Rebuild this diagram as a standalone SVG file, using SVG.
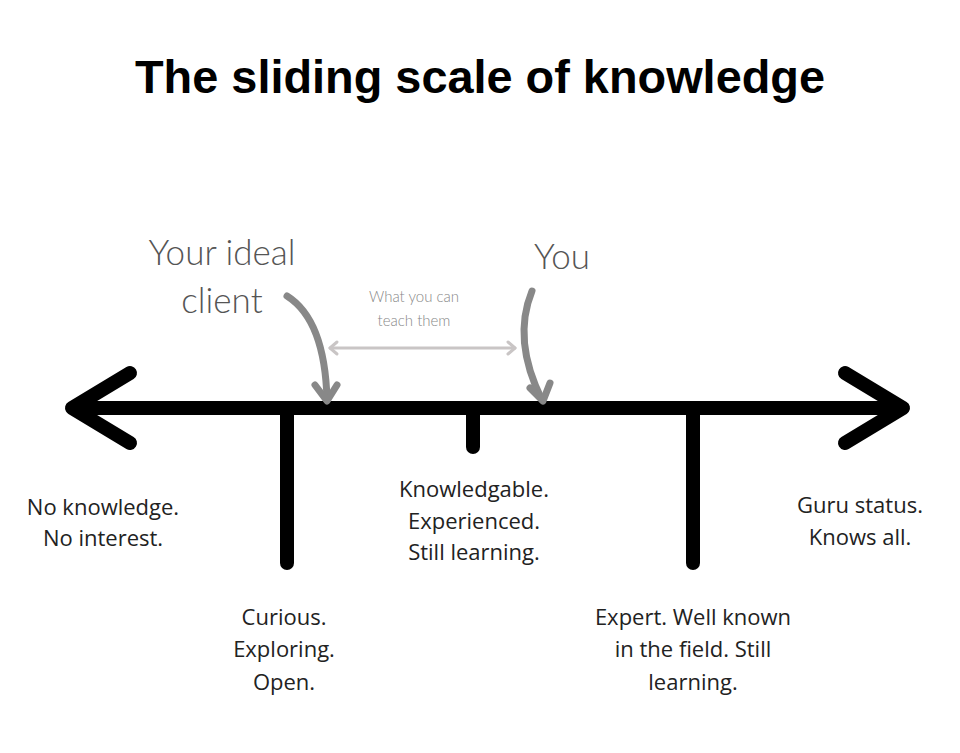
<svg xmlns="http://www.w3.org/2000/svg" width="960" height="753" viewBox="0 0 960 753">
<style>
.title{font-family:"Liberation Sans",Arial,sans-serif;font-weight:bold;font-size:46px;fill:#000;text-anchor:middle}
.big{font-family:Lato,"Open Sans",sans-serif;font-weight:300;font-size:35px;fill:#555;text-anchor:middle}
.small{font-family:Lato,"Open Sans",sans-serif;font-weight:300;font-size:15px;fill:#888;text-anchor:middle}
.lbl{font-family:"Open Sans",Lato,sans-serif;font-size:22px;fill:#222;text-anchor:middle}
.axis{stroke:#000;stroke-width:14;stroke-linecap:round;stroke-linejoin:round;fill:none}
.curve{stroke:#888;stroke-width:7;stroke-linecap:round;stroke-linejoin:round;fill:none}
.teach{stroke:#c9c5c5;stroke-width:3;stroke-linecap:round;stroke-linejoin:round;fill:none}
</style>
<rect width="960" height="753" fill="#fff"/>
<text class="title" x="480" y="93" textLength="690" lengthAdjust="spacingAndGlyphs">The sliding scale of knowledge</text>

<g id="connectors">
  <g id="axis">
    <line class="axis" x1="75" y1="408" x2="898" y2="408"/>
    <polyline class="axis" points="130,373 72,408 130,443"/>
    <polyline class="axis" points="845,373 903,408 845,443"/>
    <line class="axis" x1="287" y1="408" x2="287" y2="563"/>
    <line class="axis" x1="473" y1="408" x2="473" y2="447"/>
    <line class="axis" x1="693" y1="408" x2="693" y2="563"/>
  </g>
  <g id="client-arrow">
    <path class="curve" d="M287,296 Q325,320 327,400"/>
    <polyline class="curve" points="315,385 327,401 337,385"/>
  </g>
  <g id="you-arrow">
    <path class="curve" d="M532,291 Q512,340 542,400"/>
    <polyline class="curve" points="530,388 543,401 550,383"/>
  </g>
  <g id="teach-arrow">
    <line class="teach" x1="330" y1="348" x2="515" y2="348"/>
    <polyline class="teach" points="337,342 330,348 337,354"/>
    <polyline class="teach" points="508,342 515,348 508,354"/>
  </g>
</g>

<g id="ideal-client">
  <text class="big" x="222" y="265">Your ideal</text>
  <text class="big" x="222" y="313">client</text>
</g>
<g id="you">
  <text class="big" x="562" y="269">You</text>
</g>
<g id="teach">
  <text class="small" x="414" y="302">What you can</text>
  <text class="small" x="414" y="326">teach them</text>
</g>
<g id="no-knowledge">
  <text class="lbl" x="103" y="515">No knowledge.</text>
  <text class="lbl" x="103" y="546">No interest.</text>
</g>
<g id="curious">
  <text class="lbl" x="284" y="625">Curious.</text>
  <text class="lbl" x="284" y="657">Exploring.</text>
  <text class="lbl" x="284" y="690">Open.</text>
</g>
<g id="knowledgable">
  <text class="lbl" x="474" y="497">Knowledgable.</text>
  <text class="lbl" x="474" y="529">Experienced.</text>
  <text class="lbl" x="474" y="560">Still learning.</text>
</g>
<g id="expert">
  <text class="lbl" x="693" y="625">Expert. Well known</text>
  <text class="lbl" x="693" y="657">in the field. Still</text>
  <text class="lbl" x="693" y="690">learning.</text>
</g>
<g id="guru">
  <text class="lbl" x="860" y="513">Guru status.</text>
  <text class="lbl" x="860" y="545">Knows all.</text>
</g>
</svg>
